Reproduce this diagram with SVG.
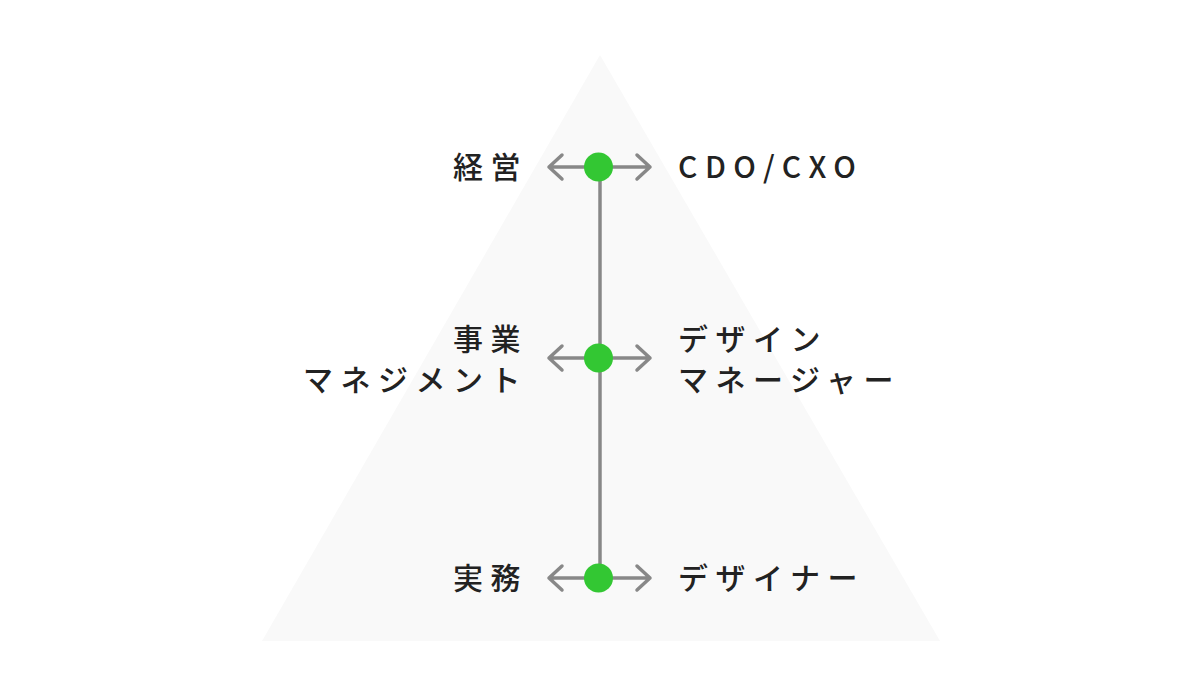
<svg xmlns="http://www.w3.org/2000/svg" width="1200" height="700" viewBox="0 0 1200 700">
<style>
.t{font-family:"Noto Sans CJK JP","Noto Sans",sans-serif;font-size:30px;fill:#222;letter-spacing:7.5px;font-weight:500}
.a{stroke:#888;stroke-width:3.5;fill:none;stroke-linecap:round;stroke-linejoin:round}
.d{fill:#33c733}
</style>
<rect width="1200" height="700" fill="#fff"/>
<polygon points="600,55 262,641 940,641" fill="#f9f9f9"/>
<g id="connectors">
<line class="a" x1="600" y1="167" x2="600" y2="578"/>
<path class="a" d="M549,167H650M562,155L549,167L562,179M637,155L650,167L637,179"/>
<path class="a" d="M549,358H650M562,346L549,358L562,370M637,346L650,358L637,370"/>
<path class="a" d="M549,578H650M562,566L549,578L562,590M637,566L650,578L637,590"/>
</g>
<g id="n1"><circle class="d" cx="598.5" cy="167" r="14.5"/>
<text class="t" x="528" y="178" text-anchor="end">経営</text>
<text class="t" x="678" y="178">CDO/CXO</text></g>
<g id="n2"><circle class="d" cx="598.5" cy="358" r="14.5"/>
<text class="t" x="528" y="350" text-anchor="end">事業</text>
<text class="t" x="528" y="391" text-anchor="end">マネジメント</text>
<text class="t" x="678" y="350">デザイン</text>
<text class="t" x="678" y="391">マネージャー</text></g>
<g id="n3"><circle class="d" cx="598.5" cy="578" r="14.5"/>
<text class="t" x="528" y="589" text-anchor="end">実務</text>
<text class="t" x="678" y="589">デザイナー</text></g>
</svg>
